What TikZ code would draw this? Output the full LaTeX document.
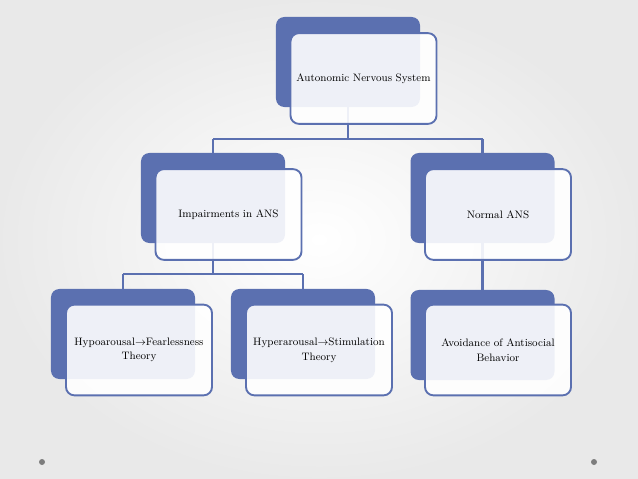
\documentclass[tikz,border=0pt]{standalone}
\usepackage{tikz}
\usetikzlibrary{positioning}
\definecolor{ansblue}{RGB}{91,112,176}
\definecolor{dotgray}{RGB}{125,125,125}

\begin{document}
\begin{tikzpicture}[
                x=0.03cm, y=-0.03cm,
                font=\fontsize{9.2}{12.5}\selectfont,
                back/.style={fill=ansblue, rounded corners=0.25cm, minimum width=4.32cm, minimum height=2.7cm, inner sep=0pt},
                front/.style={draw=ansblue, line width=1.6pt, fill=white, fill opacity=0.9, text opacity=1, rounded corners=0.25cm, minimum width=4.38cm, minimum height=2.72cm, text width=4.1cm, align=center, inner sep=0pt},
                link/.style={draw=ansblue, line width=2pt}
            ]
                \useasboundingbox (0,0) rectangle (638,479);
                \shade[inner color=white, outer color=gray!17] (0,0) rectangle (638,479);
                \fill[dotgray] (42,462) circle (3);
                \fill[dotgray] (594,462) circle (3);
                % connectors first, boxes go on top
                \coordinate (split) at (348,139);
                \coordinate (splitImp) at (213,274);
                \draw[link] (348,62) -- (split);
                \draw[link] (213,139) -- (482.5,139);
                \draw[link] (213,139) -- (213,198);
                \draw[link] (482.5,139) -- (482.5,335);
                \draw[link] (213,198) -- (splitImp);
                \draw[link] (123,274) -- (303,274);
                \draw[link] (123,274) -- (123,334);
                \draw[link] (303,274) -- (303,334);
                % back boxes
                \node[back] (ansB) at (348,62) {};
                \node[back] (impB) at (213,198) {};
                \node[back] (normB) at (482.5,198) {};
                \node[back] (hypoB) at (123,334) {};
                \node[back] (hyperB) at (303,334) {};
                \node[back] (avoidB) at (482.5,335) {};
                % front boxes
                \node[front] (ans) at (363.5,78.5) {Autonomic Nervous System};
                \node[front] (imp) at (228.5,214.5) {Impairments in ANS};
                \node[front] (norm) at (498,214.5) {Normal ANS};
                \node[front] (hypo) at (139,350) {Hypoarousal$\rightarrow$Fearlessness\\Theory};
                \node[front] (hyper) at (319,350) {Hyperarousal$\rightarrow$Stimulation\\Theory};
                \node[front] (avoid) at (498,350) {Avoidance of Antisocial\\Behavior};
            \end{tikzpicture}
\end{document}
